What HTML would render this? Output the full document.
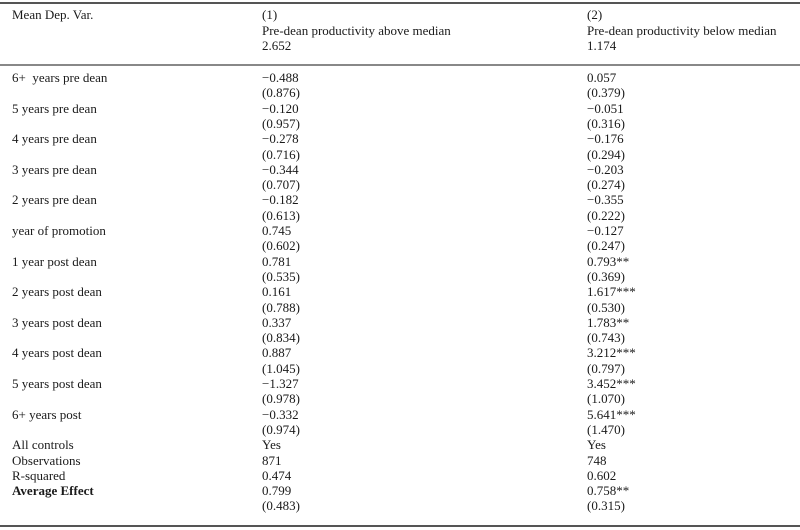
<!DOCTYPE html><html><head><style>
body{margin:0;width:800px;height:530px;background:#fff;position:relative;font-family:"Liberation Serif",serif;font-size:13px;color:#1a1a1a;overflow:hidden}
.t{position:absolute;line-height:14px;white-space:nowrap}
.l{position:absolute;left:0;width:800px;background:#555}
</style></head><body>
<div class="l" style="top:2px;height:2px"></div>
<div class="l" style="top:64px;height:2px;background:#888"></div>
<div class="l" style="top:525px;height:2px"></div>
<div id="c"></div>
<script>
var h='';function t(x,y,s,b){h+='<div class="t" style="left:'+x+'px;top:'+(y-7)+'px'+(b?';font-weight:bold':'')+'">'+s+'</div>';}
t(12,15,'Mean Dep. Var.');t(262,15,'(1)');t(262,31,'Pre-dean productivity above median');t(262,46,'2.652');
t(587,15,'(2)');t(587,31,'Pre-dean productivity below median');t(587,46,'1.174');
var r=[['6+ &nbsp;years pre dean','−0.488','(0.876)','0.057','(0.379)'],['5 years pre dean','−0.120','(0.957)','−0.051','(0.316)'],['4 years pre dean','−0.278','(0.716)','−0.176','(0.294)'],['3 years pre dean','−0.344','(0.707)','−0.203','(0.274)'],['2 years pre dean','−0.182','(0.613)','−0.355','(0.222)'],['year of promotion','0.745','(0.602)','−0.127','(0.247)'],['1 year post dean','0.781','(0.535)','0.793**','(0.369)'],['2 years post dean','0.161','(0.788)','1.617***','(0.530)'],['3 years post dean','0.337','(0.834)','1.783**','(0.743)'],['4 years post dean','0.887','(1.045)','3.212***','(0.797)'],['5 years post dean','−1.327','(0.978)','3.452***','(1.070)'],['6+ years post','−0.332','(0.974)','5.641***','(1.470)']];
var s=15.3,y0=78;
for(var i=0;i<r.length;i++){var y=y0+2*i*s;t(12,y,r[i][0]);t(262,y,r[i][1]);t(262,y+s,r[i][2]);t(587,y,r[i][3]);t(587,y+s,r[i][4]);}
function Y(n){return y0+n*s;}
t(12,Y(24),'All controls');t(262,Y(24),'Yes');t(587,Y(24),'Yes');
t(12,Y(25),'Observations');t(262,Y(25),'871');t(587,Y(25),'748');
t(12,Y(26),'R-squared');t(262,Y(26),'0.474');t(587,Y(26),'0.602');
t(12,Y(27),'Average Effect',1);t(262,Y(27),'0.799');t(587,Y(27),'0.758**');
t(262,Y(28),'(0.483)');t(587,Y(28),'(0.315)');
document.getElementById('c').innerHTML=h;
</script></body></html>
